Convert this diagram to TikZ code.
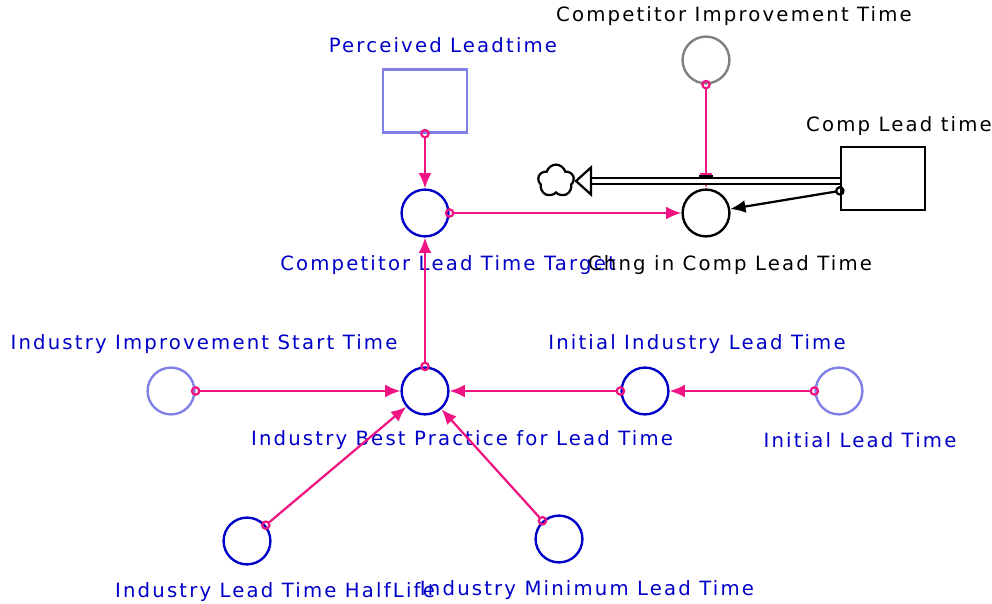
\documentclass[tikz,border=0pt]{standalone}
\usepackage{fontspec}
\setmainfont{DejaVu Sans}[LetterSpace=11]
\usepackage{tikz}
\usetikzlibrary{shapes.symbols, arrows.meta, positioning}
\definecolor{varblue}{RGB}{0,0,200}
\definecolor{paleblue}{RGB}{128,128,230}
\definecolor{linkpink}{RGB}{240,20,130}
\definecolor{constgray}{RGB}{128,128,128}

\begin{document}
\begin{tikzpicture}[
        node distance=3cm, on grid,
        aux/.style={circle, draw=varblue, line width=1.7pt, minimum size=1.17cm, inner sep=0pt},
        lvl/.style={rectangle, draw, line width=1.6pt, minimum width=2.1cm, minimum height=1.58cm},
        txt/.style={text=varblue, font=\fontsize{14}{16}\selectfont, inner sep=0pt},
        link/.style={draw=linkpink, line width=1.6pt, shorten <=-0.12cm, {Circle[open, length=0.24cm, width=0.24cm]}-{Latex[length=0.38cm, width=0.32cm]}},
        pipe/.style={double, double distance=2.2pt, line width=1.7pt},
        sinkcloud/.style={cloud, cloud puffs=5, draw, line width=1.6pt, minimum width=0.9cm, minimum height=0.82cm, inner sep=0pt}
    ]
    \useasboundingbox (-10.625,-5.325) rectangle (14.175,9.775);

    \node[aux] (best) at (0,0) {};
    \node[aux, above=4.45cm of best] (target) {};
    \node[lvl, draw=paleblue, above=2.8cm of target] (perc) {};
    \node[aux, draw=black, right=7.025cm of target] (chng) {};
    \node[aux, draw=constgray, above=3.825cm of chng] (imprv) {};
    \node[lvl, above right=0.8625cm and 4.425cm of chng] (comp) {};
    \node[sinkcloud, above left=0.8cm and 3.75cm of chng] (sink) {};
    \node[aux, draw=paleblue, left=6.35cm of best] (start) {};
    \node[aux, right=5.5cm of best] (initind) {};
    \node[aux, draw=paleblue, right=4.85cm of initind] (initlt) {};
    \node[aux, below left=3.75cm and 4.45cm of best] (half) {};
    \node[aux, below right=3.7cm and 3.35cm of best] (minlt) {};

    \node[txt, above=1.4cm of perc, xshift=0.45cm] (perc-t) {Perceived Leadtime};
    \node[txt, below=1.3cm of target, xshift=0.575cm] (target-t) {Competitor Lead Time Target};
    \node[txt, text=black, below=1.3cm of chng, xshift=0.6cm] (chng-t) {Chng in Comp Lead Time};
    \node[txt, text=black, above=1.31cm of comp, xshift=0.4cm] (comp-t) {Comp Lead time};
    \node[txt, text=black, above=1.1cm of imprv, xshift=0.7cm] (imprv-t) {Competitor Improvement Time};
    \node[txt, above=1.175cm of start, xshift=0.825cm] (start-t) {Industry Improvement Start Time};
    \node[txt, below=1.225cm of best, xshift=0.925cm] (best-t) {Industry Best Practice for Lead Time};
    \node[txt, above=1.175cm of initind, xshift=1.3cm] (initind-t) {Initial Industry Lead Time};
    \node[txt, below=1.225cm of initlt, xshift=0.525cm] (initlt-t) {Initial Lead Time};
    \node[txt, below=1.275cm of half, xshift=0.7cm] (half-t) {Industry Lead Time HalfLife};
    \node[txt, below=1.275cm of minlt, xshift=0.7cm] (minlt-t) {Industry Minimum Lead Time};

    \draw[link] (perc.south) -- (target);
    \draw[link] (best) -- (target);
    \draw[link] (target) -- (chng);
    \draw[link] (imprv) -- (chng);
    \draw[link] (start) -- (best);
    \draw[link] (initind) -- (best);
    \draw[link] (initlt) -- (initind);
    \draw[link] (half) -- (best);
    \draw[link] (minlt) -- (best);
    \draw[link, draw=black] ([yshift=-0.31cm]comp.west) -- (chng);

    \draw[pipe] (comp.west |- sink.center) -- ([xshift=0.875cm]sink.center);
    \draw[line width=1.6pt, fill=white] ([xshift=0.5cm]sink.center) -- ++(0.375,0.3375) -- ++(0,-0.675) -- cycle;
    \node[fill=black, minimum width=0.35cm, minimum height=0.08cm, inner sep=0pt, above=0.9125cm of chng] (valve) {};

    \end{tikzpicture}
\end{document}
